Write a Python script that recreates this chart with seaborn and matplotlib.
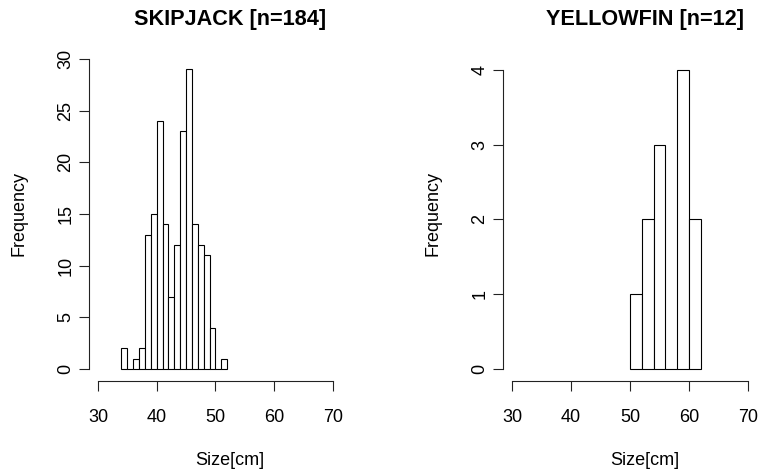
import numpy as np
import pandas as pd
import seaborn as sns
from matplotlib import pyplot as plt

sns.set_style('white')
plt.rcParams['font.family'] = ['Liberation Sans', 'DejaVu Sans']
plt.rcParams['text.color'] = 'black'
plt.rcParams['axes.labelcolor'] = 'black'
plt.rcParams['xtick.color'] = 'black'
plt.rcParams['ytick.color'] = 'black'

# bin edges and counts
skj_edges = list(range(34, 53))
skj_counts = [2, 0, 1, 2, 13, 15, 24, 14, 7, 12, 23, 29, 14, 12, 11, 4, 0, 1]
yft_edges = list(range(50, 63, 2))
yft_counts = [1, 2, 3, 0, 4, 2]

titles = ['SKIPJACK [n=184]', 'YELLOWFIN [n=12]']
x_ticks = [30, 40, 50, 60, 70]
skj_yticks = [0, 5, 10, 15, 20, 25, 30]
yft_yticks = [0, 1, 2, 3, 4]


def r_hist(ax, edges, counts, title, yticks, ylim):
    e = np.array(edges, dtype=float)
    centers = (e[:-1] + e[1:]) / 2
    df = pd.DataFrame({'size': centers, 'n': counts})
    sns.histplot(data=df, x='size', weights='n', bins=list(edges), ax=ax,
                 color='white', edgecolor='black', linewidth=1.1, alpha=1)
    ax.set_xlim(28.4, 71.6)
    ax.set_ylim(*ylim)
    for s in ['top', 'right']:
        ax.spines[s].set_visible(False)
    for s in ['left', 'bottom']:
        ax.spines[s].set_color('#222222')
        ax.spines[s].set_linewidth(1.1)
    ax.spines['left'].set_bounds(yticks[0], yticks[-1])
    ax.spines['bottom'].set_bounds(x_ticks[0], x_ticks[-1])
    ax.set_xticks(x_ticks)
    ax.set_yticks(yticks)
    ax.tick_params(axis='both', direction='out', length=10, width=1.1,
                   color='#222222', labelcolor='black', labelsize=18,
                   left=True, bottom=True)
    ax.tick_params(axis='x', pad=17.5)
    ax.tick_params(axis='y', pad=4)
    for lab in ax.get_yticklabels():
        lab.set_rotation(90)
        lab.set_va('center')
    ax.set_title(title, fontweight='bold', fontsize=21.6, x=0.557, y=1.0645,
                 pad=0, va='baseline', color='black')
    ax.set_xlabel('Size[cm]', fontsize=18, va='baseline', color='black')
    ax.xaxis.set_label_coords(0.557, -0.249)
    ax.set_ylabel('Frequency', fontsize=18, va='center', color='black')
    ax.yaxis.set_label_coords(-0.273, 0.5)


fig = plt.figure(figsize=(759 / 72, 472 / 72), dpi=72)
ax1 = fig.add_axes([0.1167, 0.192, 0.3344, 0.7093])
ax2 = fig.add_axes([0.6622, 0.192, 0.3357, 0.7093])

r_hist(ax1, skj_edges, skj_counts, titles[0], skj_yticks, (-1.2, 31.2))
r_hist(ax2, yft_edges, yft_counts, titles[1], yft_yticks, (-0.166, 4.313))

plt.savefig('out.png', dpi=72)
